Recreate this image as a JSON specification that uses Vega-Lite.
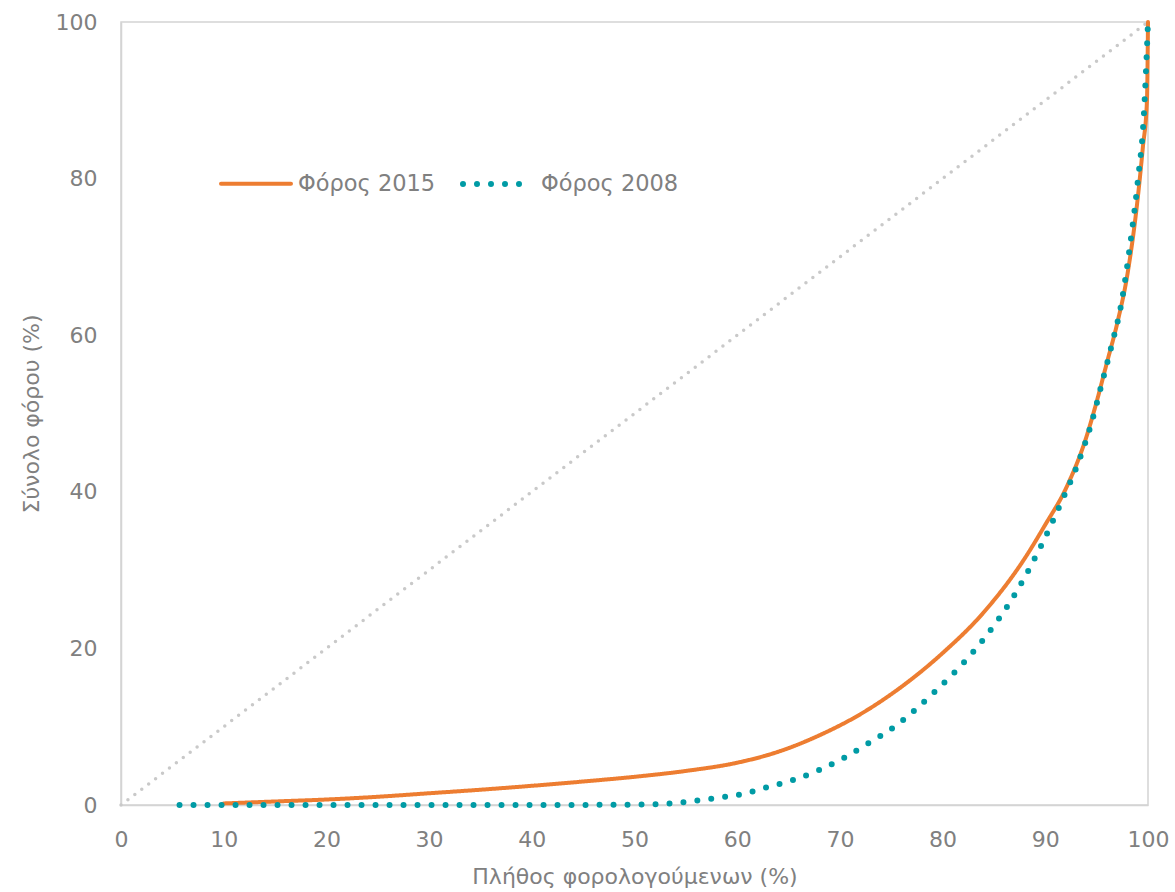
{
  "$schema": "https://vega.github.io/schema/vega-lite/v6.json",
  "width": 1027,
  "height": 783,
  "padding": {"left": 20, "top": 10, "right": 20, "bottom": 5},
  "config": {
    "font": "DejaVu Sans",
    "view": {"stroke": "#d4d4d4", "strokeWidth": 1.5},
    "axis": {
      "grid": false,
      "ticks": false,
      "labelFlush": false,
      "domainColor": "#d4d4d4",
      "domainWidth": 1.5,
      "labelColor": "#808080",
      "labelFontSize": 22,
      "labelFont": "DejaVu Sans",
      "titleColor": "#808080",
      "titleFont": "DejaVu Sans",
      "titleFontWeight": "normal",
      "titleFontSize": 22
    },
    "legend": {
      "labelFont": "DejaVu Sans"
    }
  },
  "layer": [
    {
      "data": {"values": [{"x": 0, "y": 0}, {"x": 100, "y": 100}]},
      "mark": {"type": "line", "color": "#c9c9c9", "strokeWidth": 3.5, "strokeDash": [0, 8.7], "strokeCap": "round"},
      "encoding": {
        "x": {"field": "x", "type": "quantitative"},
        "y": {"field": "y", "type": "quantitative"}
      }
    },
    {
      "data": {"values": [
        {"series": "Φόρος 2015", "x": 10, "y": 0.2},
        {"series": "Φόρος 2015", "x": 15, "y": 0.45},
        {"series": "Φόρος 2015", "x": 20, "y": 0.7},
        {"series": "Φόρος 2015", "x": 25, "y": 1.05},
        {"series": "Φόρος 2015", "x": 30, "y": 1.5},
        {"series": "Φόρος 2015", "x": 35, "y": 1.95},
        {"series": "Φόρος 2015", "x": 40, "y": 2.45},
        {"series": "Φόρος 2015", "x": 45, "y": 3.0},
        {"series": "Φόρος 2015", "x": 50, "y": 3.6},
        {"series": "Φόρος 2015", "x": 55, "y": 4.35},
        {"series": "Φόρος 2015", "x": 60, "y": 5.4},
        {"series": "Φόρος 2015", "x": 64, "y": 6.8},
        {"series": "Φόρος 2015", "x": 68, "y": 8.9},
        {"series": "Φόρος 2015", "x": 72, "y": 11.6},
        {"series": "Φόρος 2015", "x": 76, "y": 15.1},
        {"series": "Φόρος 2015", "x": 80, "y": 19.4},
        {"series": "Φόρος 2015", "x": 84, "y": 24.6},
        {"series": "Φόρος 2015", "x": 88, "y": 31.5},
        {"series": "Φόρος 2015", "x": 90, "y": 35.8},
        {"series": "Φόρος 2015", "x": 92, "y": 40.4},
        {"series": "Φόρος 2015", "x": 94, "y": 47.0},
        {"series": "Φόρος 2015", "x": 95, "y": 51.5},
        {"series": "Φόρος 2015", "x": 96, "y": 56.5},
        {"series": "Φόρος 2015", "x": 97, "y": 61.5},
        {"series": "Φόρος 2015", "x": 98, "y": 67.8},
        {"series": "Φόρος 2015", "x": 99, "y": 77.5},
        {"series": "Φόρος 2015", "x": 99.5, "y": 84},
        {"series": "Φόρος 2015", "x": 99.9, "y": 90},
        {"series": "Φόρος 2015", "x": 100, "y": 100},
        {"series": "Φόρος 2008", "x": 5.7, "y": 0},
        {"series": "Φόρος 2008", "x": 10, "y": 0},
        {"series": "Φόρος 2008", "x": 20, "y": 0},
        {"series": "Φόρος 2008", "x": 30, "y": 0},
        {"series": "Φόρος 2008", "x": 40, "y": 0},
        {"series": "Φόρος 2008", "x": 50, "y": 0.05},
        {"series": "Φόρος 2008", "x": 53, "y": 0.15},
        {"series": "Φόρος 2008", "x": 55, "y": 0.4},
        {"series": "Φόρος 2008", "x": 58, "y": 0.9},
        {"series": "Φόρος 2008", "x": 60.5, "y": 1.4},
        {"series": "Φόρος 2008", "x": 63, "y": 2.3},
        {"series": "Φόρος 2008", "x": 65.7, "y": 3.3},
        {"series": "Φόρος 2008", "x": 68.2, "y": 4.6},
        {"series": "Φόρος 2008", "x": 70.5, "y": 6.1},
        {"series": "Φόρος 2008", "x": 72.8, "y": 7.9},
        {"series": "Φόρος 2008", "x": 75.1, "y": 9.8},
        {"series": "Φόρος 2008", "x": 79.1, "y": 14.3},
        {"series": "Φόρος 2008", "x": 83.7, "y": 20.7},
        {"series": "Φόρος 2008", "x": 86.8, "y": 26.4},
        {"series": "Φόρος 2008", "x": 89.4, "y": 32.6},
        {"series": "Φόρος 2008", "x": 91.6, "y": 38.8},
        {"series": "Φόρος 2008", "x": 93.2, "y": 43.7},
        {"series": "Φόρος 2008", "x": 94.5, "y": 48.8},
        {"series": "Φόρος 2008", "x": 95.5, "y": 53.8},
        {"series": "Φόρος 2008", "x": 96.5, "y": 58.9},
        {"series": "Φόρος 2008", "x": 97.4, "y": 64},
        {"series": "Φόρος 2008", "x": 98.2, "y": 71},
        {"series": "Φόρος 2008", "x": 99, "y": 79.6},
        {"series": "Φόρος 2008", "x": 99.6, "y": 88.2},
        {"series": "Φόρος 2008", "x": 100, "y": 100}
      ]},
      "mark": {"type": "line", "interpolate": "monotone", "strokeCap": "round"},
      "encoding": {
        "x": {
          "field": "x", "type": "quantitative",
          "scale": {"domain": [0, 100], "nice": false},
          "axis": {"values": [0, 10, 20, 30, 40, 50, 60, 70, 80, 90, 100], "labelPadding": 24, "title": "Πλήθος φορολογούμενων (%)", "titlePadding": 16}
        },
        "y": {
          "field": "y", "type": "quantitative",
          "scale": {"domain": [0, 100], "nice": false},
          "axis": {"values": [0, 20, 40, 60, 80, 100], "labelPadding": 24, "title": "Σύνολο φόρου (%)", "titlePadding": 12}
        },
        "color": {
          "field": "series", "type": "nominal",
          "scale": {"domain": ["Φόρος 2015", "Φόρος 2008"], "range": ["#ED7D31", "#009BA5"]},
          "legend": {
            "title": null, "orient": "none", "legendX": 98, "legendY": 124,
            "direction": "horizontal", "symbolType": "stroke", "symbolSize": 4900,
            "labelFontSize": 22.5, "labelColor": "#808080", "labelOffset": 5, "columnPadding": 15,
            "encode": {"symbols": {"update": {"strokeCap": {"value": "round"}}}}
          }
        },
        "strokeDash": {
          "field": "series", "type": "nominal",
          "scale": {"domain": ["Φόρος 2015", "Φόρος 2008"], "range": [[1, 0], [0, 14]]},
          "legend": {
            "title": null, "orient": "none", "legendX": 98, "legendY": 124,
            "direction": "horizontal", "symbolType": "stroke", "symbolSize": 4900,
            "labelFontSize": 22.5, "labelColor": "#808080", "labelOffset": 5, "columnPadding": 15,
            "encode": {"symbols": {"update": {"strokeCap": {"value": "round"}}}}
          }
        },
        "strokeWidth": {
          "field": "series", "type": "nominal",
          "scale": {"domain": ["Φόρος 2015", "Φόρος 2008"], "range": [4, 6]},
          "legend": {
            "title": null, "orient": "none", "legendX": 98, "legendY": 124,
            "direction": "horizontal", "symbolType": "stroke", "symbolSize": 4900,
            "labelFontSize": 22.5, "labelColor": "#808080", "labelOffset": 5, "columnPadding": 15,
            "encode": {"symbols": {"update": {"strokeCap": {"value": "round"}}}}
          }
        }
      }
    }
  ]
}
